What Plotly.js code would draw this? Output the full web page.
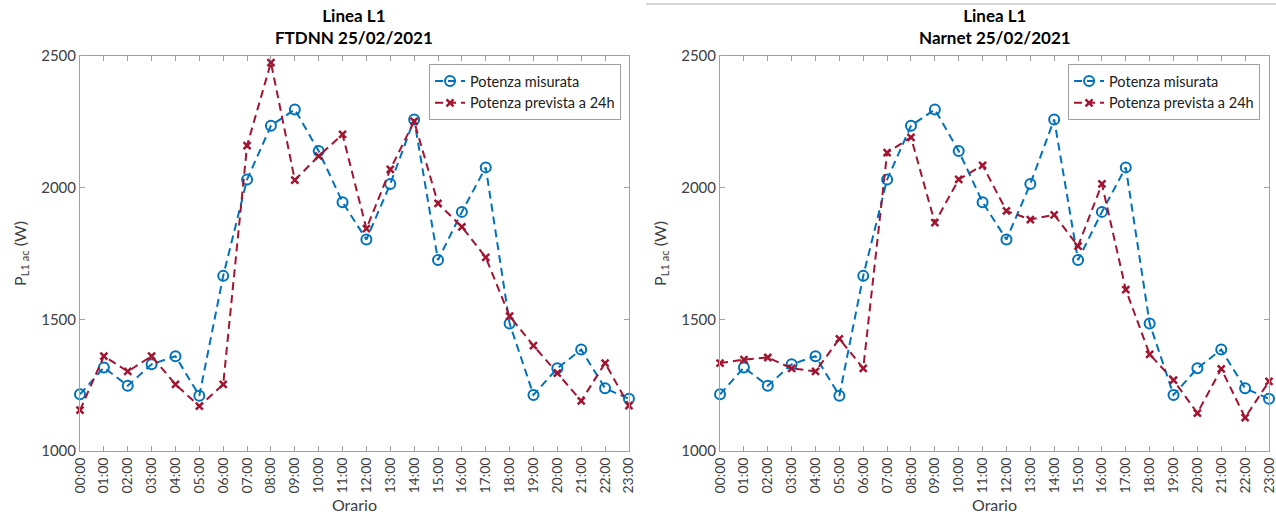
<!DOCTYPE html>
<html>
<head>
<meta charset="utf-8">
<script src="https://cdn.plot.ly/plotly-3.0.1.min.js"></script>
<style>html,body{margin:0;padding:0;background:#fff;}#chart{width:1276px;height:517px;}</style>
</head>
<body>
<div id="chart"></div>
<script>
var hours = ['00:00','01:00','02:00','03:00','04:00','05:00','06:00','07:00','08:00','09:00','10:00','11:00',
             '12:00','13:00','14:00','15:00','16:00','17:00','18:00','19:00','20:00','21:00','22:00','23:00'];
var measured = [1215,1317,1248,1329,1360,1210,1665,2031,2235,2297,2139,1945,1803,2014,2259,1725,1908,2077,1484,1213,1314,1385,1238,1198];
var forecastFTDNN = [1155,1360,1302,1360,1253,1170,1253,2160,2475,2029,2120,2202,1844,2069,2252,1940,1851,1735,1512,1400,1296,1190,1334,1172];
var forecastNarnet = [1334,1347,1355,1314,1302,1426,1314,2133,2191,1867,2031,2085,1912,1879,1897,1778,2014,1613,1367,1269,1144,1312,1127,1264];
var yTicks = [1000,1500,2000,2500];
var seriesNames = ['Potenza misurata','Potenza prevista a 24h'];
var titles = ['<b>Linea L1</b><br><b>FTDNN 25/02/2021</b>','<b>Linea L1</b><br><b>Narnet 25/02/2021</b>'];
var xTitle = 'Orario';
var yTitle = 'P<sub>L1 ac</sub> (W)';

var BLUE = '#0072BD', RED = '#A2142F', AX = '#a0a0a0', TXT = '#404040';
var FONT = 'Lato, "Open Sans", sans-serif';

function measTrace(xa, ya, lg) {
  return {x: hours, y: measured, xaxis: xa, yaxis: ya, legend: lg, name: seriesNames[0], showlegend: true,
    mode: 'lines+markers', cliponaxis: false,
    line: {color: BLUE, width: 2, dash: '8px,5px'},
    marker: {symbol: 'circle-open', size: 10, color: BLUE, line: {width: 2, color: BLUE}}};
}
function fcTrace(vals, xa, ya, lg) {
  return {x: hours, y: vals, xaxis: xa, yaxis: ya, legend: lg, name: seriesNames[1], showlegend: true,
    mode: 'lines+markers', cliponaxis: false,
    line: {color: RED, width: 2, dash: '8px,5px'},
    marker: {symbol: 'x-thin', size: 7, color: RED, line: {width: 2.5, color: RED}}};
}
var data = [
  measTrace('x', 'y', 'legend'), fcTrace(forecastFTDNN, 'x', 'y', 'legend'),
  measTrace('x2', 'y2', 'legend2'), fcTrace(forecastNarnet, 'x2', 'y2', 'legend2')
];

function xax(dom, anchor) {
  return {domain: dom, anchor: anchor, type: 'category', range: [0, 23],
    showline: true, linecolor: AX, linewidth: 1, mirror: 'ticks', showgrid: false, zeroline: false,
    ticks: 'inside', ticklen: 5, tickcolor: AX, tickwidth: 1, tickangle: -90,
    tickfont: {family: FONT, size: 14, color: TXT},
    title: {text: xTitle, font: {family: FONT, size: 16, color: TXT}, standoff: 7},
    automargin: false};
}
function yax(anchor) {
  return {domain: [0.1277, 0.8917], anchor: anchor, range: [1000, 2500], tickvals: yTicks,
    showline: true, linecolor: AX, linewidth: 1, mirror: 'ticks', showgrid: false, zeroline: false,
    ticks: 'inside', ticklen: 5, tickcolor: AX, tickwidth: 1,
    tickfont: {family: FONT, size: 15, color: TXT},
    title: {text: yTitle, font: {family: FONT, size: 16, color: TXT}, standoff: 10},
    automargin: false};
}
function leg(xr) {
  return {x: xr, y: 0.8762, xanchor: 'right', yanchor: 'top', bgcolor: '#ffffff',
    bordercolor: AX, borderwidth: 1, font: {family: FONT, size: 14.5, color: '#202020'},
    tracegroupgap: 0, itemwidth: 30};
}

var layout = {
  width: 1276, height: 517, margin: {l: 0, r: 0, t: 0, b: 0},
  paper_bgcolor: '#ffffff', plot_bgcolor: '#ffffff',
  font: {family: FONT, color: TXT},
  xaxis: xax([0.0627, 0.4929], 'y'),
  yaxis: yax('x'),
  xaxis2: xax([0.5643, 0.9945], 'y2'),
  yaxis2: yax('x2'),
  legend: leg(0.4867),
  legend2: leg(0.9875),
  annotations: [
    {text: titles[0], xref: 'paper', yref: 'paper', x: 0.2778, y: 1 - 27/517, xanchor: 'center', yanchor: 'middle',
     showarrow: false, font: {family: FONT, size: 17, color: '#000'}},
    {text: titles[1], xref: 'paper', yref: 'paper', x: 0.7794, y: 1 - 27/517, xanchor: 'center', yanchor: 'middle',
     showarrow: false, font: {family: FONT, size: 17, color: '#000'}}
  ],
  shapes: [
    {type: 'line', xref: 'paper', yref: 'paper', x0: 646/1276, x1: 1, y0: 1 - 4/517, y1: 1 - 4/517,
     line: {color: '#b0b0b0', width: 1}}
  ]
};

Plotly.newPlot('chart', data, layout, {displayModeBar: false, staticPlot: true});
</script>
</body>
</html>
